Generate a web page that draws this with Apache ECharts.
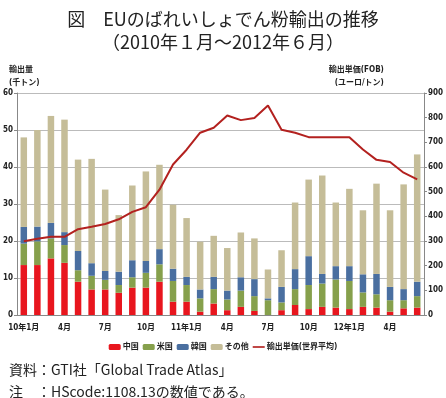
<!DOCTYPE html>
<html>
<head>
<meta charset="utf-8">
<script src="https://cdn.jsdelivr.net/npm/echarts@6/dist/echarts.min.js"></script>
<style>
    html, body { margin: 0; padding: 0; background: #fff; }
    #chart { width: 446px; height: 398px; }
</style>
</head>
<body>
<div id="chart"></div>
<script>
let months = ['10年1月', '2月', '3月', '4月', '5月', '6月', '7月', '8月', '9月', '10月', '11月', '12月',
    '11年1月', '2月', '3月', '4月', '5月', '6月', '7月', '8月', '9月', '10月', '11月', '12月',
    '12年1月', '2月', '3月', '4月', '5月', '6月'];
// 千トン
let china = [13.5, 13.5, 15.3, 14.1, 9.0, 6.9, 6.9, 6.0, 7.4, 7.4, 9.0, 3.6,
    3.6, 0.9, 3.1, 1.3, 2.2, 1.1, 0, 1.3, 2.7, 1.6, 2.2, 2.0,
    1.6, 2.2, 2.0, 0.9, 1.8, 2.0];
let usa = [5.8, 6.4, 5.4, 4.8, 3.1, 3.7, 2.6, 2.1, 2.8, 4.0, 4.7, 5.6,
    4.5, 3.6, 3.9, 2.9, 4.4, 4.0, 4.0, 2.1, 4.3, 6.5, 6.3, 7.6,
    7.6, 3.9, 3.6, 3.1, 2.2, 3.1];
let korea = [4.5, 4.0, 4.2, 3.5, 5.2, 3.4, 2.4, 3.6, 4.6, 3.2, 4.1, 3.3,
    2.2, 2.4, 3.3, 2.4, 3.6, 4.6, 0.5, 4.2, 5.4, 7.8, 2.6, 3.6,
    4.0, 4.9, 5.5, 3.6, 3.0, 3.9];
let other = [24.2, 26.1, 28.9, 30.4, 24.7, 28.2, 22.0, 15.3, 20.2, 24.2, 22.8, 17.3,
    15.9, 12.9, 11.1, 11.5, 12.1, 11.0, 7.8, 9.9, 18.0, 20.7, 26.6, 17.2,
    20.9, 17.3, 24.4, 20.7, 28.3, 34.4];
// ユーロ/トン
let price = [299, 309, 317, 317, 348, 358, 369, 388, 418, 437, 508, 610,
    670, 739, 759, 809, 790, 799, 849, 751, 739, 721, 721, 721,
    721, 671, 629, 620, 577, 550];
// ----------------------------------------------------
let font = "'DejaVu Sans Condensed', 'Noto Sans CJK JP', sans-serif";
let jp = "'Noto Sans CJK JP', sans-serif";
let axisText = { fontFamily: font, fontSize: 8, fontWeight: 'bold', color: '#222' };
let titleText = { fontFamily: jp, fontSize: 18, fontWeight: 'normal', color: '#222' };

let chart = echarts.init(document.getElementById('chart'));
let barSeries = function (name, data, color) {
    return {
        name: name,
        type: 'bar',
        stack: 'vol',
        barWidth: 6.5,
        data: data,
        itemStyle: { color: color }
    };
};
let option = {
    animation: false,
    title: [
        { text: '図　EUのばれいしょでん粉輸出の推移', left: 'center', top: 5, textStyle: titleText },
        { text: '（2010年１月～2012年６月）', left: 'center', top: 28, textStyle: titleText },
        {
            text: '輸出量\n(千トン)',
            left: 4,
            top: 58,
            textStyle: { fontFamily: font, fontSize: 8, fontWeight: 'bold', color: '#222', lineHeight: 13 }
        },
        {
            text: '輸出単価(FOB)\n(ユーロ/トン)',
            right: 2,
            top: 58,
            textAlign: 'right',
            textStyle: { fontFamily: font, fontSize: 8, fontWeight: 'bold', color: '#222', lineHeight: 13, align: 'right' }
        },
        {
            text: '資料：GTI社「Global Trade Atlas」\n注　：HScode:1108.13の数値である。',
            left: 4,
            top: 354,
            textStyle: { fontFamily: jp, fontSize: 14, fontWeight: 'normal', color: '#222', lineHeight: 22 }
        }
    ],
    legend: {
        top: 338,
        left: 'center',
        itemWidth: 12,
        itemHeight: 6,
        itemGap: 4,
        textStyle: { fontFamily: font, fontSize: 8, fontWeight: 'bold', color: '#222', padding: [0, 0, 0, -3] },
        data: ['中国', '米国', '韓国', 'その他',
            { name: '輸出単価(世界平均)', icon: 'path://M0,0L16,0L16,2.2L0,2.2Z' }]
    },
    grid: {
        left: 15,
        right: 14,
        top: 93,
        bottom: 83
    },
    xAxis: {
        type: 'category',
        data: months,
        axisLine: { lineStyle: { color: '#888' } },
        axisTick: { show: false },
        axisLabel: Object.assign({ interval: 2, margin: 9 }, axisText)
    },
    yAxis: [
        {
            type: 'value',
            min: 0,
            max: 60,
            interval: 10,
            axisLine: { show: true, lineStyle: { color: '#888' } },
            axisTick: { show: true, length: 3, lineStyle: { color: '#888' } },
            splitLine: { lineStyle: { color: '#bbb', width: 1.2 } },
            axisLabel: Object.assign({ margin: 4 }, axisText)
        },
        {
            type: 'value',
            min: 0,
            max: 900,
            interval: 100,
            position: 'right',
            axisLine: { show: true, lineStyle: { color: '#888' } },
            axisTick: { show: true, length: 3, lineStyle: { color: '#888' } },
            splitLine: { show: false },
            axisLabel: Object.assign({ margin: 4 }, axisText)
        }
    ],
    series: [
        barSeries('中国', china, '#e8161e'),
        barSeries('米国', usa, '#86a04c'),
        barSeries('韓国', korea, '#4a6fa0'),
        barSeries('その他', other, '#c5bd98'),
        {
            name: '輸出単価(世界平均)',
            type: 'line',
            yAxisIndex: 1,
            data: price,
            symbol: 'none',
            lineStyle: { color: '#b3211f', width: 2 },
            itemStyle: { color: '#b3211f' }
        }
    ]
};

chart.setOption(option);
</script>
</body>
</html>
